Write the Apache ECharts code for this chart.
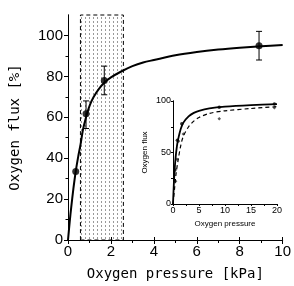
<!DOCTYPE html>
<html><head><meta charset="utf-8">
<script src="https://cdn.jsdelivr.net/npm/echarts@6/dist/echarts.min.js"></script>
<style>html,body{margin:0;padding:0;background:#fff}#c{width:294px;height:286px}</style>
</head><body><div id="c"></div>
<script>
// Main plot data
const measPressure = [0.36, 0.84, 1.69, 8.9];
const measFlux = [33.5, 61.7, 78, 95];
const errLow = [33.5, 54.5, 71, 88];
const errHigh = [33.5, 68, 85, 102];
const fitPressure = [0, 0.08, 0.15, 0.25, 0.36, 0.48, 0.58, 0.7, 0.84, 1.0, 1.2, 1.45, 1.7, 2.0, 2.5, 3.0, 3.5, 4.0, 5.0, 6.0, 7.0, 8.0, 9.0, 10.0];
const fitFlux = [0, 9, 16, 25, 33.5, 41, 46.5, 54, 60, 65.5, 70, 74, 77, 79.5, 82.5, 85, 86.8, 88, 90.3, 91.9, 93.1, 94.0, 94.7, 95.3];
const shadeRange = [0.58, 2.58];
const yTicks = [0, 20, 40, 60, 80, 100];
const yMinorTicks = [10, 30, 50, 70, 90];
// Inset data
const insetSolidX = [0, 0.15, 0.3, 0.5, 0.75, 1.0, 1.5, 2.0, 3.0, 4.0, 5.0, 7.0, 10.0, 15.0, 20.0];
const insetSolidY = [0, 18, 32, 45, 56, 63, 73, 79, 85, 88.5, 90.5, 92.8, 94.5, 96, 97];
const insetDashX = [0, 0.3, 0.6, 1.0, 1.5, 2.0, 3.0, 4.0, 5.0, 7.0, 10.0, 15.0, 20.0];
const insetDashY = [0, 15, 30, 43, 57, 66, 75, 80.5, 84, 88, 90.5, 92.7, 94.5];
const insetPtsSolid = [[0.36, 33], [0.84, 62], [1.69, 78], [8.9, 94], [19.5, 97]];
const insetPtsDash = [[0.5, 22], [0.76, 43.5], [1.07, 61], [2.0, 68], [8.9, 82.7], [19.5, 93.5]];

const pc = document.createElement('canvas');
pc.width = 4; pc.height = 4;
const pctx = pc.getContext('2d');
pctx.fillStyle = '#999';
pctx.fillRect(1, 1, 1, 2);

const FONT = 'DejaVu Sans Mono';
const chart = echarts.init(document.getElementById('c'), null, {renderer: 'canvas'});
const axLine = {show: true, lineStyle: {color: '#000', width: 1}};
chart.setOption({
  animation: false,
  backgroundColor: '#fff',
  grid: [
    {left: 62, top: 15, width: 226, height: 231},
    {left: 173, top: 101, width: 104, height: 103}
  ],
  xAxis: [
    {gridIndex: 0, type: 'value', min: 0, max: 10, interval: 2, position: 'bottom',
     axisLine: axLine, splitLine: {show: false},
     axisTick: {show: true, length: 4, lineStyle: {color: '#000'}},
     minorTick: {show: true, splitNumber: 2, length: 3, lineStyle: {color: '#000'}},
     axisLabel: {color: '#000', fontSize: 15, fontFamily: 'Liberation Sans', margin: 4, showMaxLabel: true},
     name: 'Oxygen pressure [kPa]', nameLocation: 'middle', nameGap: 27,
     nameTextStyle: {color: '#000', fontSize: 14, fontFamily: FONT}},
    {gridIndex: 0, type: 'value', min: 0, max: 10, interval: 2, position: 'top',
     axisLine: axLine, splitLine: {show: false},
     axisTick: {show: true, length: 3, lineStyle: {color: '#000'}},
     minorTick: {show: false}, axisLabel: {show: false}},
    {gridIndex: 1, type: 'value', min: 0, max: 20, interval: 5, position: 'bottom',
     axisLine: axLine, splitLine: {show: false},
     axisTick: {show: true, length: 2, lineStyle: {color: '#000'}},
     minorTick: {show: true, splitNumber: 2, length: 2, lineStyle: {color: '#000'}},
     axisLabel: {color: '#000', fontSize: 9, fontFamily: 'Liberation Sans', margin: 2},
     name: 'Oxygen pressure', nameLocation: 'middle', nameGap: 16,
     nameTextStyle: {color: '#000', fontSize: 8, fontFamily: 'Liberation Sans'}},
    {gridIndex: 1, type: 'value', min: 0, max: 20, interval: 5, position: 'top',
     axisLine: axLine, splitLine: {show: false},
     axisTick: {show: true, inside: true, length: 2, lineStyle: {color: '#000'}},
     axisLabel: {show: false}}
  ],
  yAxis: [
    {gridIndex: 0, type: 'value', min: 0, max: 110, position: 'left',
     axisLine: axLine, splitLine: {show: false},
     axisTick: {show: true, length: 4, customValues: yTicks, lineStyle: {color: '#000'}},
     axisLabel: {color: '#000', fontSize: 15, fontFamily: 'Liberation Sans', margin: 5, customValues: yTicks},
     name: 'Oxygen flux [%]', nameLocation: 'middle', nameGap: 46, nameRotate: 90,
     nameTextStyle: {color: '#000', fontSize: 14, fontFamily: FONT}},
    {gridIndex: 0, type: 'value', min: 0, max: 110, position: 'right',
     axisLine: axLine, splitLine: {show: false},
     axisTick: {show: true, inside: true, length: 3, customValues: yTicks, lineStyle: {color: '#000'}},
     axisLabel: {show: false}},
    {gridIndex: 1, type: 'value', min: 0, max: 100, interval: 50, position: 'left',
     axisLine: axLine, splitLine: {show: false},
     axisTick: {show: true, length: 2, lineStyle: {color: '#000'}},
     minorTick: {show: true, splitNumber: 2, length: 2, lineStyle: {color: '#000'}},
     axisLabel: {color: '#000', fontSize: 9, fontFamily: 'Liberation Sans', margin: 2},
     name: 'Oxygen flux', nameLocation: 'middle', nameGap: 24, nameRotate: 90,
     nameTextStyle: {color: '#000', fontSize: 8, fontFamily: 'Liberation Sans'}},
    {gridIndex: 1, type: 'value', min: 0, max: 100, interval: 50, position: 'right',
     axisLine: axLine, splitLine: {show: false},
     axisTick: {show: true, inside: true, length: 2, lineStyle: {color: '#000'}},
     axisLabel: {show: false}},
    {gridIndex: 0, type: 'value', min: 0, max: 110, position: 'left',
     axisLine: {show: false}, splitLine: {show: false},
     axisTick: {show: true, length: 2.5, customValues: yMinorTicks, lineStyle: {color: '#000'}},
     axisLabel: {show: false}}
  ],
  series: [
    {type: 'line', xAxisIndex: 0, yAxisIndex: 0, data: [], silent: true,
     markArea: {silent: true, itemStyle: {color: {image: pc, repeat: 'repeat'}, borderColor: '#000', borderWidth: 1, borderType: [4, 3]},
       data: [[{xAxis: shadeRange[0], yAxis: 0}, {xAxis: shadeRange[1], yAxis: 110}]]}},
    {type: 'line', xAxisIndex: 0, yAxisIndex: 0, smooth: 0.3, symbol: 'none',
     lineStyle: {color: '#000', width: 2}, data: fitPressure.map((x, i) => [x, fitFlux[i]])},
    {type: 'custom', xAxisIndex: 0, yAxisIndex: 0,
     data: measPressure.map((x, i) => [x, errLow[i], errHigh[i]]),
     renderItem: function (params, api) {
       const x = api.value(0);
       const lo = api.coord([x, api.value(1)]);
       const hi = api.coord([x, api.value(2)]);
       if (Math.abs(lo[1] - hi[1]) < 1) return {type: 'group', children: []};
       const w = 3;
       const st = {stroke: '#000', lineWidth: 1};
       return {type: 'group', children: [
         {type: 'line', shape: {x1: lo[0], y1: lo[1], x2: hi[0], y2: hi[1]}, style: st},
         {type: 'line', shape: {x1: lo[0] - w, y1: lo[1], x2: lo[0] + w, y2: lo[1]}, style: st},
         {type: 'line', shape: {x1: hi[0] - w, y1: hi[1], x2: hi[0] + w, y2: hi[1]}, style: st}
       ]};
     }},
    {type: 'scatter', xAxisIndex: 0, yAxisIndex: 0, symbolSize: 7,
     itemStyle: {color: '#000'}, data: measPressure.map((x, i) => [x, measFlux[i]])},
    {type: 'line', xAxisIndex: 2, yAxisIndex: 2, smooth: 0.3, symbol: 'none',
     lineStyle: {color: '#000', width: 1.8}, data: insetSolidX.map((x, i) => [x, insetSolidY[i]])},
    {type: 'line', xAxisIndex: 2, yAxisIndex: 2, smooth: 0.3, symbol: 'none',
     lineStyle: {color: '#000', width: 1.2, type: [4, 3]}, data: insetDashX.map((x, i) => [x, insetDashY[i]])},
    {type: 'scatter', xAxisIndex: 2, yAxisIndex: 2, symbolSize: 3.5,
     itemStyle: {color: '#000'}, data: insetPtsSolid},
    {type: 'scatter', xAxisIndex: 2, yAxisIndex: 2, symbol: 'diamond', symbolSize: 3.5,
     itemStyle: {color: '#333'}, data: insetPtsDash}
  ]
});
</script></body></html>
